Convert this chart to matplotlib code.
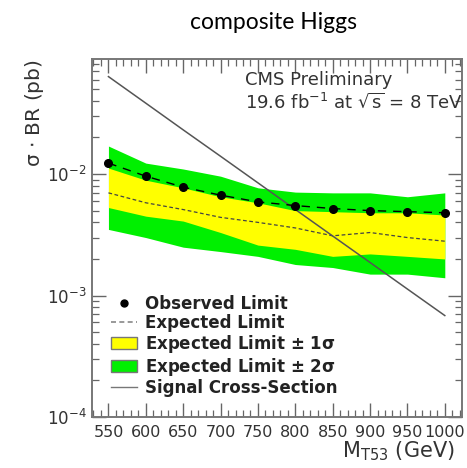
import matplotlib
matplotlib.use("Agg")
import matplotlib.pyplot as plt
from matplotlib.lines import Line2D
from matplotlib.patches import Patch
from matplotlib.ticker import MultipleLocator, LogLocator, NullFormatter, FixedLocator

mass = [550, 600, 650, 700, 750, 800, 850, 900, 950, 1000]
observed = [0.0123, 0.0096, 0.0078, 0.0067, 0.0059, 0.0055, 0.0052, 0.0050, 0.0049, 0.0048]
expected = [0.0070, 0.0058, 0.0051, 0.0044, 0.0040, 0.0036, 0.0031, 0.0033, 0.0030, 0.0028]
exp_1s_lo = [0.0053, 0.0045, 0.0041, 0.0033, 0.0026, 0.0024, 0.0021, 0.0022, 0.0021, 0.0020]
exp_1s_hi = [0.0112, 0.0089, 0.0077, 0.0065, 0.0058, 0.0050, 0.0049, 0.0048, 0.0048, 0.0046]
exp_2s_lo = [0.0035, 0.0030, 0.0025, 0.0023, 0.0021, 0.0018, 0.0017, 0.0015, 0.0015, 0.0014]
exp_2s_hi = [0.0170, 0.0123, 0.0110, 0.0096, 0.0077, 0.0071, 0.0070, 0.0070, 0.0065, 0.0070]
signal = [0.0634, 0.0383, 0.0231, 0.0140, 0.00846, 0.00511, 0.00309, 0.00187, 0.00113, 0.000684]

xtick_vals = [550, 600, 650, 700, 750, 800, 850, 900, 950, 1000]

plt.rcParams['font.family'] = ['DejaVu Sans']
plt.rcParams['mathtext.default'] = 'regular'

fig = plt.figure(figsize=(4.67, 4.68), dpi=100)
ax = fig.add_axes([92/467, 1-417/468, 370/467, 358/468])

green = '#00f000'
yellow = '#ffff00'
ax.fill_between(mass, exp_2s_lo, exp_2s_hi, color=green, lw=0)
ax.fill_between(mass, exp_1s_lo, exp_1s_hi, color=yellow, lw=0)
ax.plot(mass, expected, color='#444444', lw=0.9, ls=(0, (3, 2)))
ax.plot(mass, signal, color='#555555', lw=1.1)
ax.plot(mass, observed, color='black', lw=1.0, ls=(0, (6, 5)), marker='o', ms=5.5)

ax.set_yscale('log')
ax.set_xlim(528, 1023)
ax.set_ylim(1e-4, 0.0885)

ax.xaxis.set_major_locator(FixedLocator(xtick_vals))
ax.xaxis.set_minor_locator(MultipleLocator(10))
ax.set_xticklabels([str(v) for v in xtick_vals])
ax.yaxis.set_major_locator(LogLocator(base=10))
ax.yaxis.set_minor_locator(LogLocator(base=10, subs=range(2, 10)))
ax.yaxis.set_minor_formatter(NullFormatter())

tc = '#333333'
ax.tick_params(which='both', direction='in', top=True, right=True, color='#666666')
ax.tick_params(which='major', length=10, width=1.0)
ax.tick_params(which='minor', length=5, width=0.9)
ax.tick_params(axis='x', which='major', labelsize=11.5, labelcolor=tc, pad=6)
ax.tick_params(axis='y', which='major', labelsize=12, labelcolor=tc, pad=4)
for s in ax.spines.values():
    s.set_color('#777777')
    s.set_linewidth(1.4)

ax.text(-0.155, 1.0, r'$\sigma$ $\cdot$ BR (pb)', transform=ax.transAxes, rotation=90,
        ha='center', va='top', fontsize=14.5, color=tc)
fig.text(455/467, 1-457/468, r'M$_{T53}$ (GeV)', ha='right', va='baseline', fontsize=15, color=tc)

fig.text(245/467, 1-85/468, 'CMS Preliminary', fontsize=13, color=tc, va='baseline')
fig.text(245/467, 1-108/468, r'19.6 fb$^{-1}$ at $\sqrt{s}$ = 8 TeV', fontsize=13, color=tc, va='baseline')

fig.text(273/467, 1-29/468, 'composite Higgs', ha='center', va='baseline', fontsize=16.5,
         family='Lato', color='black')

handles = [
    Line2D([], [], color='black', marker='o', ms=5, ls='none'),
    Line2D([], [], color='#888888', lw=1.2, ls=(0, (3, 2))),
    Patch(facecolor=yellow, edgecolor='#777777', lw=1.0),
    Patch(facecolor=green, edgecolor='#777777', lw=1.0),
    Line2D([], [], color='#777777', lw=1.0),
]
labels = ['Observed Limit', 'Expected Limit', r'Expected Limit $\pm$ 1$\sigma$',
          r'Expected Limit $\pm$ 2$\sigma$', 'Signal Cross-Section']
leg = ax.legend(handles, labels, loc='upper left', bbox_to_anchor=(0.05, 0.342),
                frameon=False, borderpad=0, borderaxespad=0, handlelength=1.6,
                handleheight=0.75, handletextpad=0.45, labelspacing=0.06,
                prop={'weight': 'bold', 'size': 12})
for t in leg.get_texts():
    t.set_color('#222222')

fig.savefig('out.png', dpi=100)
